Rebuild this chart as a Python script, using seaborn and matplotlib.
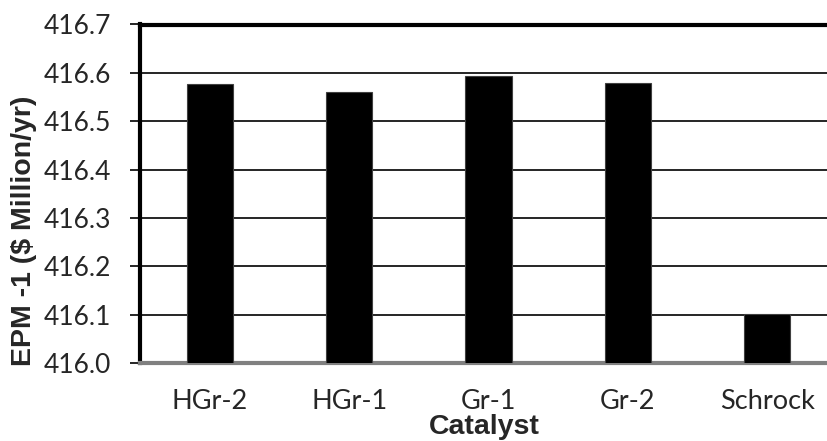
import matplotlib.pyplot as plt
import pandas as pd
import seaborn as sns

# Data
catalysts = ['HGr-2', 'HGr-1', 'Gr-1', 'Gr-2', 'Schrock']
epm = [416.576, 416.561, 416.593, 416.578, 416.102]
y_ticks = [416.0, 416.1, 416.2, 416.3, 416.4, 416.5, 416.6, 416.7]

df = pd.DataFrame({'Catalyst': catalysts, 'EPM': epm})

sns.set_style('white')
plt.rcParams['font.family'] = ['Lato', 'DejaVu Sans']

fig = plt.figure(figsize=(8.28, 4.41), dpi=100)
# axes runs past the right edge of the picture, like the source
ax = fig.add_axes([140 / 828, 1 - 363 / 441, 697 / 828, 338.5 / 441])

sns.barplot(data=df, x='Catalyst', y='EPM', color='black', width=0.33,
            edgecolor='#404040', linewidth=0.8, ax=ax, zorder=3)

ax.set_ylim(416.0, 416.7)
ax.set_yticks(y_ticks)
ax.set_yticklabels([f'{v:.1f}' for v in y_ticks])
ax.yaxis.grid(True, color='black', linewidth=1.2, zorder=0)
ax.set_axisbelow(True)

ax.tick_params(axis='y', labelsize=19, length=7, width=1.2, color='black',
               direction='out', left=True, pad=14)
ax.tick_params(axis='x', labelsize=19.5, length=0, pad=19)

for side in ['top', 'left']:
    ax.spines[side].set_color('black')
    ax.spines[side].set_linewidth(3)
ax.spines['bottom'].set_color('#808080')
ax.spines['bottom'].set_linewidth(3)
ax.spines['right'].set_visible(False)

bold = dict(fontsize=20.5, fontweight='bold', family=['Liberation Sans', 'DejaVu Sans'])
ax.set_ylabel('EPM -1 ($ Million/yr)', **bold)
ax.yaxis.set_label_coords(-103 / 697, 132 / 338.5)
ax.set_xlabel('Catalyst', **bold)
ax.xaxis.set_label_coords(344 / 697, -51 / 338.5)

fig.savefig('out.png', dpi=100)
